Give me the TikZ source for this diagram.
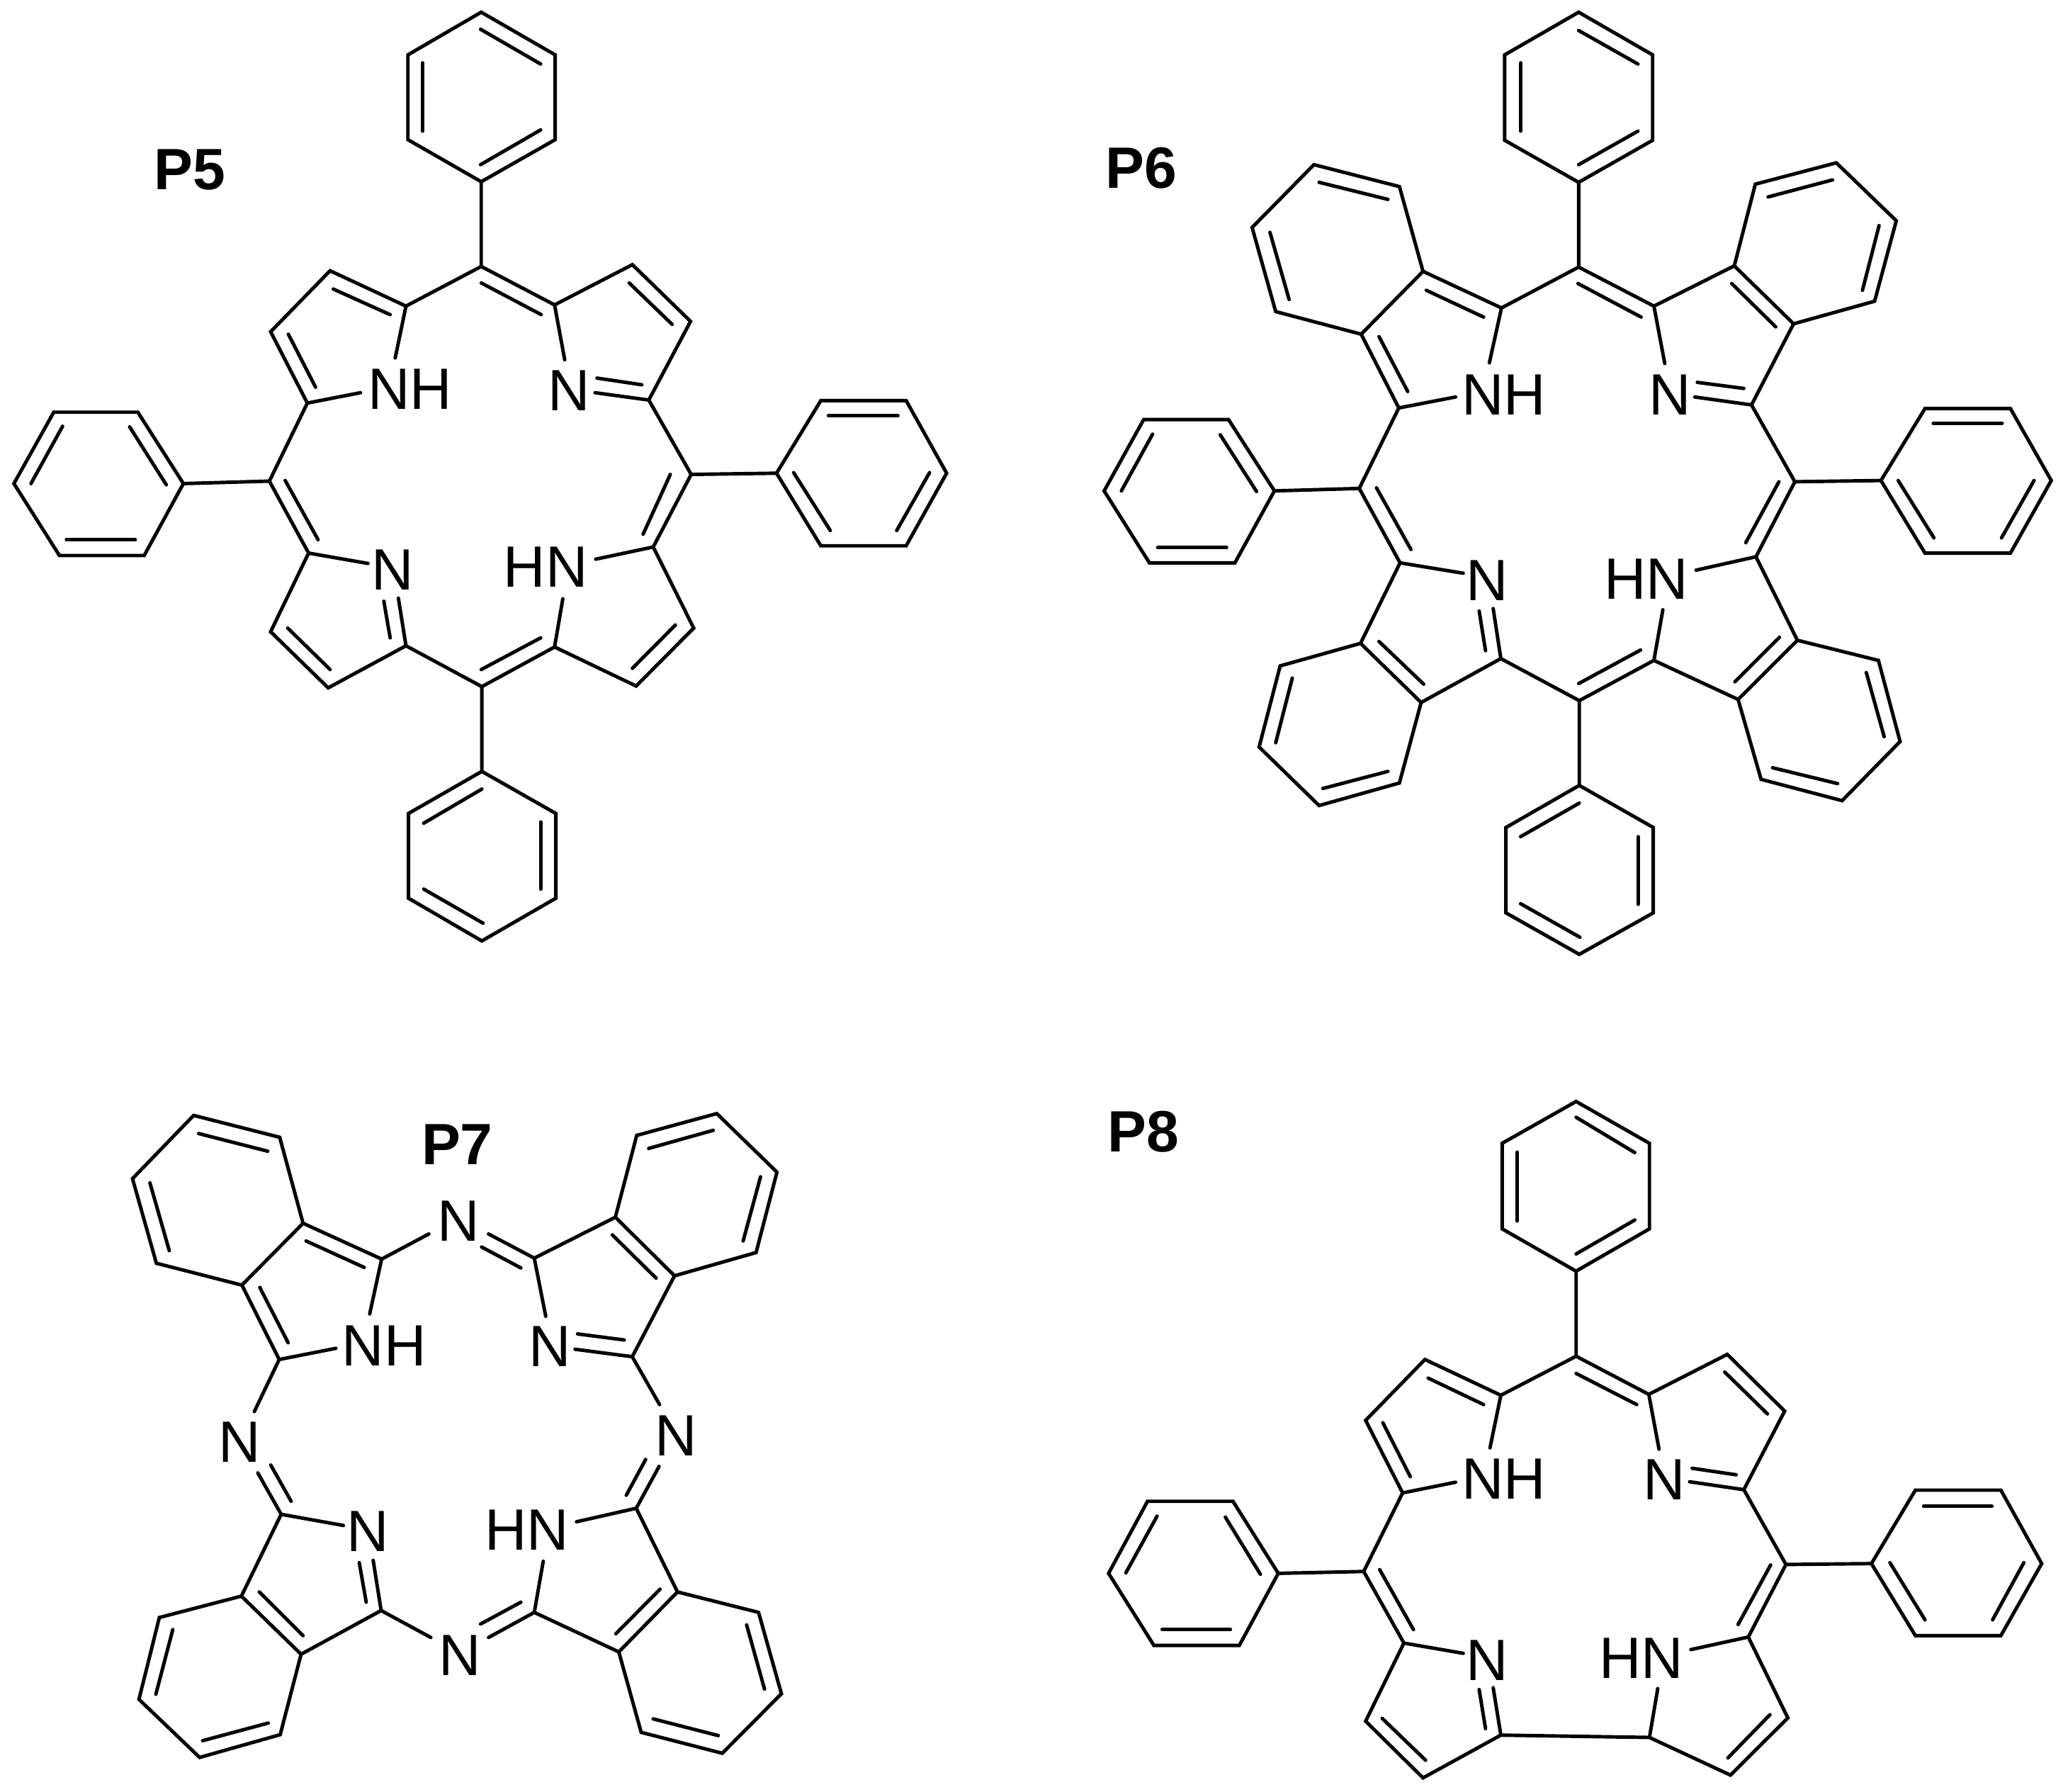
\documentclass[tikz,border=0pt]{standalone}
\usepackage{fontspec}
\setmainfont{Liberation Sans}
\newcommand\atoms[1]{\foreach \n/\x/\y in {#1}{\coordinate (\n) at (\x,\y);}}
\newcommand\dblin[1]{\foreach \xa/\ya/\xb/\yb in {#1}{\draw[bond] (\xa,\ya)--(\xb,\yb);}}
\tikzset{
 bond/.style={line width=1.4pt,line cap=round,line join=miter,black},
 lab/.style={inner sep=0pt,font=\fontsize{23.4}{24}\selectfont,text=black},
 ttl/.style={inner sep=0pt,font=\fontsize{23.4}{24}\selectfont\bfseries,text=black},
 mfive/.style={x=.00893cm,y=-.00861cm,name prefix=pf-},
 msix/.style={shift={(15cm,0cm)},x=.009005cm,y=-.00861cm,name prefix=ps-},
 mseven/.style={shift={(1cm,-15cm)},x=.007015cm,y=-.006556cm,name prefix=pv-},
 meight/.style={shift={(15cm,-15cm)},x=.009005cm,y=-.006556cm,name prefix=pe-},
}
\begin{document}
\begin{tikzpicture}
\useasboundingbox (0,0) rectangle (29.12,-25.28);
\fill[white] (0,0) rectangle (29.12,-25.28);
%% P5
\begin{scope}[mfive]
\node[ttl] (title) at (300,278) {P5};
\node[lab] (nh) at (648,638) {NH};
\node[lab] (n2) at (900,640) {N};
\node[lab] (n3) at (621,935) {N};
\node[lab] (hn) at (863,930) {HN};
\atoms{t1/761/20,t2/878/90,t3/878/229,t4/761/298,t5/645/229,t6/645/90,
 m1/761/437,a1/642/502,b1/522/444,c1/428/544,d1/486/661,e1/625/587,e2/570/644,
 a2/877/500,b2/1000/434,c2/1092/527,d2/1026/656,e3/893/590,e4/941/644,
 m2/1093/778,r1/1228/776,r2/1298/657,r3/1433/657,r4/1497/776,r5/1433/895,r6/1298/895,
 a3/1033/897,b3/1097/1030,c3/1006/1125,d3/877/1061,e5/942/917,e6/890/982,
 m3/762/1126,u1/762/1265,u2/879/1334,u3/879/1473,u4/762/1543,u5/646/1473,u6/646/1334,
 a4/642/1059,b4/519/1128,c4/428/1036,d4/488/907,e7/582/924,e8/630/981,
 m4/426/789,l1/290/793,l2/218/676,l3/85/676,l4/22/793,l5/94/911,l6/228/911}
\draw[bond] (t1)--(t2)--(t3)--(t4)--(t5)--(t6)--cycle;
\draw[bond] (t4)--(m1)--(a1)--(b1)--(c1)--(d1)--(m4)--(d4)--(c4)--(b4)--(a4)--(m3)--(d3)--(c3)--(b3)--(a3)--(m2)--(d2)--(c2)--(b2)--(a2)--(m1);
\draw[bond] (a1)--(e1) (d1)--(e2) (a2)--(e3) (d2)--(e4) (a3)--(e5) (d3)--(e6) (d4)--(e7) (a4)--(e8);
\draw[bond] (m2)--(r1)--(r2)--(r3)--(r4)--(r5)--(r6)--(r1);
\draw[bond] (m3)--(u1)--(u2)--(u3)--(u4)--(u5)--(u6)--(u1);
\draw[bond] (m4)--(l1)--(l2)--(l3)--(l4)--(l5)--(l6)--(l1);
\dblin{760/48/855/105,855/213/760/270,668/215/668/103,
 617/516/527/474,456/548/499/635,761/464/856/516,995/464/1063/532,1015/631/944/620,
 1060/778/1017/876,1310/682/1420/682,1470/775/1418/870,1313/870/1255/775,
 1068/1025/1000/1096,855/1046/761/1098,762/1294/670/1350,855/1348/855/1458,764/1514/670/1458,
 522/1098/455/1030,617/1046/607/986,503/885/451/788,205/700/263/795,99/699/49/793,105/885/214/885}
\end{scope}
%% P6
\begin{scope}[msix]
\node[ttl] (title) at (123,276) {P6};
\node[lab] (nh) at (692,647) {NH};
\node[lab] (n2) at (952,648) {N};
\node[lab] (n3) at (666,952) {N};
\node[lab] (hn) at (915,950) {HN};
\atoms{t1/809/20,t2/925/90,t3/925/230,t4/809/299,t5/693/230,t6/693/90,
 m1/809/438,a1/688/505,b1/565/445,c1/468/548,d1/527/669,e1/669/595,e2/616/651,
 f1/528/306,f2/394/270,f3/297/373,f4/334/511,
 a2/927/502,b2/1053/436,c2/1146/531,d2/1080/664,e3/944/596,e4/991/651,
 g1/1086/302,g2/1213/267,g3/1307/362,g4/1273/494,
 m2/1148/790,r1/1283/788,r2/1352/670,r3/1486/670,r4/1550/788,r5/1486/907,r6/1352/907,
 a3/1087/913,b3/1152/1050,c3/1059/1147,d3/927/1083,e5/993/935,e6/941/1000,
 h1/1279/1083,h2/1313/1216,h3/1222/1313,h4/1095/1278,
 m3/810/1149,u1/810/1288,u2/926/1357,u3/926/1497,u4/810/1565,u5/695/1497,u6/695/1357,
 a4/687/1080,b4/562/1152,c4/467/1055,d4/529/923,e7/628/940,e8/675/998,
 k1/341/1092,k2/308/1225,k3/402/1321,k4/528/1284,
 m4/465/801,l1/332/805,l2/260/688,l3/127/688,l4/65/805,l5/136/923,l6/270/923}
\draw[bond] (t1)--(t2)--(t3)--(t4)--(t5)--(t6)--cycle;
\draw[bond] (t4)--(m1)--(a1)--(b1)--(c1)--(d1)--(m4)--(d4)--(c4)--(b4)--(a4)--(m3)--(d3)--(c3)--(b3)--(a3)--(m2)--(d2)--(c2)--(b2)--(a2)--(m1);
\draw[bond] (a1)--(e1) (d1)--(e2) (a2)--(e3) (d2)--(e4) (a3)--(e5) (d3)--(e6) (d4)--(e7) (a4)--(e8);
\draw[bond] (b1)--(f1)--(f2)--(f3)--(f4)--(c1);
\draw[bond] (b2)--(g1)--(g2)--(g3)--(g4)--(c2);
\draw[bond] (b3)--(h1)--(h2)--(h3)--(h4)--(c3);
\draw[bond] (c4)--(k1)--(k2)--(k3)--(k4)--(b4);
\draw[bond] (m2)--(r1)--(r2)--(r3)--(r4)--(r5)--(r6)--(r1);
\draw[bond] (m3)--(u1)--(u2)--(u3)--(u4)--(u5)--(u6)--(u1);
\draw[bond] (m4)--(l1)--(l2)--(l3)--(l4)--(l5)--(l6)--(l1);
\dblin{809/50/902/105,902/215/809/270,718/215/718/103,
 660/520/570/476,496/552/541/642,510/327/402/299,355/491/325/381,
 808/465/907/520,1049/465/1118/536,1068/637/995/627,1106/323/1207/295,1280/370/1254/476,
 1365/694/1473/694,1523/788/1472/882,1366/882/1310/788,1123/790/1071/890,
 1124/1045/1054/1118,1260/1103/1288/1208,1215/1285/1113/1259,906/1066/809/1121,
 810/1317/718/1372,902/1372/902/1483,811/1537/718/1482,
 663/1067/653/1002,566/1122/496/1052,360/1112/334/1218,510/1265/408/1293,
 546/901/492/800,247/713/304/806,141/712/92/805,149/898/257/898}
\end{scope}
%% P7
\begin{scope}[mseven]
\node[ttl] (title) at (777,175) {P7};
\node[lab] (nh) at (630,608) {NH};
\node[lab] (n2) at (964,610) {N};
\node[lab] (n3) at (597,1008) {N};
\node[lab] (hn) at (917,1005) {HN};
\node[lab] (nt) at (780,340) {N};
\node[lab] (nr) at (1217,802) {N};
\node[lab] (nb) at (782,1275) {N};
\node[lab] (nl) at (339,816) {N};
\atoms{a1/625/422,b1/467/345,c1/344/478,d1/419/638,e1/601/540,e2/533/614,
 f1/420/160,f2/247/113,f3/124/249,f4/172/431,
 a2/932/420,b2/1095/332,c2/1214/458,d2/1129/632,e3/955/545,e4/1014/616,
 g1/1138/156,g2/1299/109,g3/1420/235,g4/1378/408,
 a3/1137/958,b3/1220/1138,c3/1102/1267,d3/932/1182,e5/1017/987,e6/950/1072,
 h1/1383/1182,h2/1429/1357,h3/1310/1485,h4/1147/1440,
 a4/624/1178,b4/463/1272,c4/343/1147,d4/423/971,e7/548/995,e8/608/1070,
 k1/178/1193,k2/137/1369,k3/259/1494,k4/421/1445,
 s1/720/368,s2/840/368,s3/1184/735,s4/1183/868,s5/840/1236,s6/724/1236,s7/369/750,s8/376/882}
\draw[bond] (s1)--(a1)--(b1)--(c1)--(d1)--(s7);
\draw[bond] (s2)--(a2)--(b2)--(c2)--(d2)--(s3);
\draw[bond] (s4)--(a3)--(b3)--(c3)--(d3)--(s5);
\draw[bond] (s6)--(a4)--(b4)--(c4)--(d4)--(s8);
\draw[bond] (a1)--(e1) (d1)--(e2) (a2)--(e3) (d2)--(e4) (a3)--(e5) (d3)--(e6) (d4)--(e7) (a4)--(e8);
\draw[bond] (b1)--(f1)--(f2)--(f3)--(f4)--(c1);
\draw[bond] (b2)--(g1)--(g2)--(g3)--(g4)--(c2);
\draw[bond] (b3)--(h1)--(h2)--(h3)--(h4)--(c3);
\draw[bond] (c4)--(k1)--(k2)--(k3)--(k4)--(b4);
\dblin{905/441/826/396,590/440/473/383,380/483/437/602,396/190/257/152,198/404/159/258,
 1089/370/1177/463,1113/596/1019/583,1162/184/1292/145,1387/245/1352/383,
 1117/930/1156/853,1185/1132/1096/1228,1359/1209/1395/1347,1302/1447/1171/1411,
 905/1160/824/1207,594/1160/580/1075,467/1232/379/1138,205/1219/171/1358,397/1420/265/1458,
 443/943/402/865}
\end{scope}
%% P8
\begin{scope}[meight]
\node[ttl] (title) at (126,148) {P8};
\node[lab] (nh) at (692,895) {NH};
\node[lab] (n2) at (943,897) {N};
\node[lab] (n3) at (666,1285) {N};
\node[lab] (hn) at (907,1280) {HN};
\atoms{t1/805/83,t2/920/173,t3/920/357,t4/805/448,t5/689/357,t6/689/173,
 m1/805/631,a1/687/715,b1/568/638,c1/475/769,d1/533/925,e1/670/828,e2/616/902,
 a2/919/713,b2/1042/627,c2/1132/749,d2/1068/918,e3/935/831,e4/983/901,
 m2/1134/1079,r1/1268/1077,r2/1337/919,r3/1471/919,r4/1535/1077,r5/1471/1232,r6/1337/1232,
 a3/1075/1235,b3/1137/1409,c3/1047/1532,d3/920/1451,e5/985/1262,e6/933/1346,
 a4/687/1446,b4/565/1538,c4/475/1416,d4/535/1248,e7/628/1270,e8/675/1344,
 m4/472/1094,l1/338/1098,l2/267/943,l3/133/943,l4/72/1098,l5/143/1253,l6/277/1253}
\draw[bond] (t1)--(t2)--(t3)--(t4)--(t5)--(t6)--cycle;
\draw[bond] (t4)--(m1)--(a1)--(b1)--(c1)--(d1)--(m4)--(d4)--(c4)--(b4)--(a4)--(d3)--(c3)--(b3)--(a3)--(m2)--(d2)--(c2)--(b2)--(a2)--(m1);
\draw[bond] (a1)--(e1) (d1)--(e2) (a2)--(e3) (d2)--(e4) (a3)--(e5) (d3)--(e6) (d4)--(e7) (a4)--(e8);
\draw[bond] (m2)--(r1)--(r2)--(r3)--(r4)--(r5)--(r6)--(r1);
\draw[bond] (m4)--(l1)--(l2)--(l3)--(l4)--(l5)--(l6)--(l1);
\dblin{805/117/897/193,897/338/805/411,713/340/713/192,
 660/735/573/678,502/774/545/890,805/668/900/735,1038/665/1105/755,1056/886/987/872,
 1350/954/1457/954,1507/1075/1458/1198,1352/1198/1297/1075,1110/1080/1059/1208,
 1109/1402/1043/1495,663/1432/653/1348,569/1500/501/1410,550/1219/497/1090,
 255/977/310/1100,148/975/99/1097,156/1219/263/1219}
\end{scope}
\end{tikzpicture}
\end{document}
